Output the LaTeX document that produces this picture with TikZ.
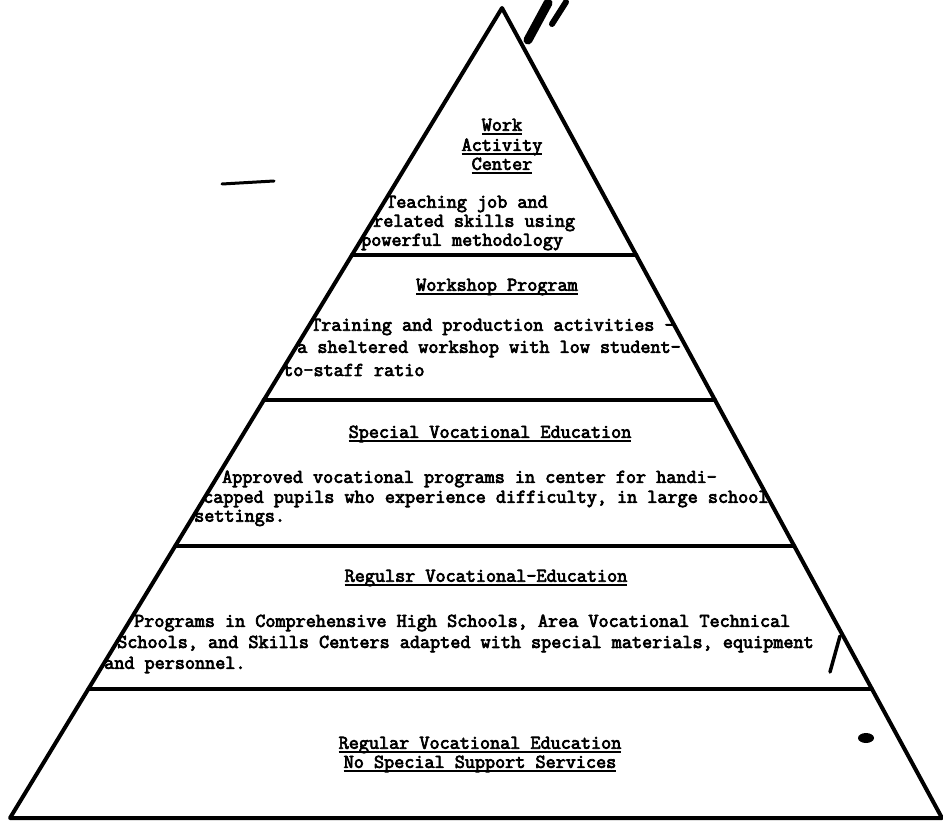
\documentclass[tikz,border=0pt]{standalone}
\usepackage{fontspec}
\newfontfamily\tw{Latin Modern Mono}[FakeBold=3.6]
\usetikzlibrary{calc}
\newcommand\uln[1]{\setbox0\hbox{#1}\rlap{\rule[-4.5pt]{\wd0}{2.4pt}}\box0}
\begin{document}
\begin{tikzpicture}[x=1pt,y=-1pt,
  edge/.style={line width=4pt, line join=round, line cap=round},
  speck/.style={line width=#1, line cap=round},
  txt/.style={inner sep=0pt, font=\tw\fontsize{19.6}{20}\selectfont},
  lbl/.style={txt, anchor=west},
  ttl/.style={txt, anchor=center}]
\useasboundingbox (0,0) rectangle (943,824);
\coordinate (A) at (502,8);
\coordinate (L) at (10,818);
\coordinate (R) at (942,818);
\draw[edge] (A) -- (L) -- (R) -- cycle;
\foreach \t/\n in {0.3053/1,0.4845/2,0.6638/3,0.8405/4}{
  \coordinate (l\n) at ($(A)!\t!(L)$);
  \coordinate (r\n) at ($(A)!\t!(R)$);
  \draw[edge] (l\n) -- (r\n);
}
% tier 1
\node[ttl] (t1a) at (502,127) {\uln{Work}};
\node[ttl] (t1b) at (502,147) {\uln{Activity}};
\node[ttl] (t1c) at (502,166) {\uln{Center}};
\node[lbl] (t1d) at (386,204) {Teaching job and};
\node[lbl] (t1e) at (373,223) {related skills using};
\node[lbl] (t1f) at (361,242) {powerful methodology};
% tier 2
\node[ttl] (t2a) at (497,287) {\uln{Workshop Program}};
\node[lbl] (t2b) at (311,327) {Training and production activities -};
\node[lbl] (t2c) at (297,349) {a sheltered workshop with low student-};
\node[lbl] (t2d) at (283,370) {to-staff ratio};
% tier 3
\node[ttl] (t3a) at (490,434) {\uln{Special Vocational Education}};
\node[lbl] (t3b) at (222,479) {Approved vocational programs in center for handi-};
\node[lbl] (t3c) at (203,499) {capped pupils who experience difficulty, in large school};
\node[lbl] (t3d) at (194,518) {settings.};
% tier 4
\node[ttl] (t4a) at (486,578) {\uln{Regulsr Vocational-Education}};
\node[lbl] (t4b) at (134,623) {Programs in Comprehensive High Schools, Area Vocational Technical};
\node[lbl] (t4c) at (117,644) {Schools, and Skills Centers adapted with special materials, equipment};
\node[lbl] (t4d) at (104,665) {and personnel.};
% tier 5
\node[ttl] (t5a) at (480,745) {\uln{Regular Vocational Education}};
\node[ttl] (t5b) at (480,764) {\uln{No Special Support Services}};
% scan marks
\draw[speck=9pt] (528,40) -- (548,3);
\draw[speck=6pt] (552,24) -- (566,2);
\draw[speck=3pt] (222,184) -- (274,181);
\draw[speck=3.5pt] (830,672) -- (840,636);
\fill (866,738) ellipse (8pt and 5pt);
\end{tikzpicture}
\end{document}
